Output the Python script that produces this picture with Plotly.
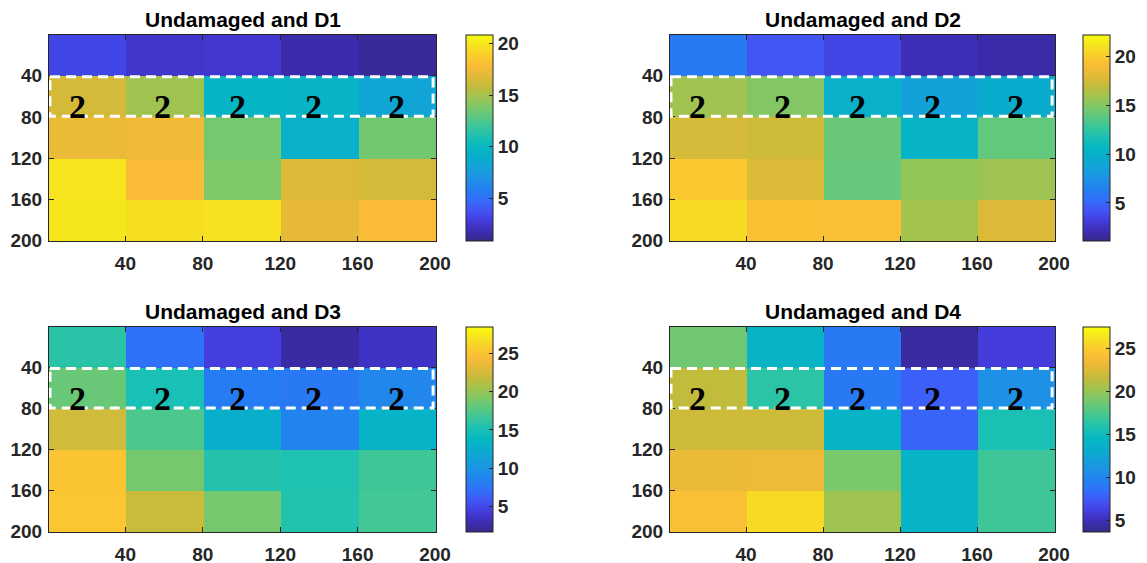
import plotly.graph_objects as go

# ---------------- data ----------------
titles = ["Undamaged and D1", "Undamaged and D2", "Undamaged and D3", "Undamaged and D4"]
block_centers = [20.5, 60.5, 100.5, 140.5, 180.5]   # 40x40 blocks on a 200x200 grid
axis_ticks = [40, 80, 120, 160, 200]

# block values (rows = y blocks from top, cols = x blocks from left)
d1 = [[3.3, 2.5, 2.6, 1.7, 1.3],
      [16.4, 14.8, 9.7, 9.5, 8.3],
      [17.2, 17.5, 13.6, 9.3, 13.5],
      [19.8, 17.8, 13.9, 16.6, 16.4],
      [19.9, 19.6, 19.7, 17.0, 17.8]]
d2 = [[6.0, 4.3, 3.6, 2.2, 1.9],
      [15.9, 15.0, 10.0, 8.7, 9.5],
      [17.6, 17.3, 14.2, 10.2, 14.0],
      [19.7, 17.8, 14.1, 15.5, 15.8],
      [20.7, 19.3, 19.2, 16.0, 17.8]]
d3 = [[15.8, 7.3, 4.5, 2.5, 3.6],
      [18.3, 15.0, 8.1, 7.8, 8.9],
      [22.3, 17.2, 12.6, 8.6, 13.2],
      [25.0, 18.8, 15.6, 15.3, 16.7],
      [25.2, 22.0, 18.8, 15.4, 16.8]]
d4 = [[18.7, 14.1, 9.1, 4.4, 6.0],
      [21.5, 16.3, 9.1, 7.7, 10.8],
      [22.0, 22.0, 14.1, 8.0, 15.6],
      [23.2, 23.4, 19.0, 14.1, 17.0],
      [24.2, 25.8, 20.3, 14.1, 17.0]]
panels = [d1, d2, d3, d4]
z_ranges = [(0.9, 20.8), (1.1, 22.2), (1.7, 28.4), (3.65, 27.5)]
cbar_ticks = [[5, 10, 15, 20], [5, 10, 15, 20], [5, 10, 15, 20, 25], [5, 10, 15, 20, 25]]

# labelled region and its labels
region_y = [41, 79.5]
region_x = [1, 199]
label_text = "2"
label_x = [15, 59, 98, 137, 180]
label_y = 70

# ---------------- style ----------------
parula = [
    [0.00, "rgb(53,42,135)"], [0.05, "rgb(60,45,180)"], [0.10, "rgb(68,60,220)"],
    [0.15, "rgb(66,85,245)"], [0.20, "rgb(50,110,250)"], [0.25, "rgb(35,128,240)"],
    [0.30, "rgb(30,145,230)"], [0.35, "rgb(20,160,218)"], [0.40, "rgb(10,172,205)"],
    [0.45, "rgb(5,183,195)"], [0.50, "rgb(25,192,180)"], [0.55, "rgb(55,198,158)"],
    [0.60, "rgb(90,200,130)"], [0.65, "rgb(125,200,105)"], [0.70, "rgb(160,195,80)"],
    [0.75, "rgb(195,188,60)"], [0.80, "rgb(225,185,55)"], [0.85, "rgb(250,188,55)"],
    [0.90, "rgb(250,205,45)"], [0.95, "rgb(245,228,30)"], [1.00, "rgb(249,251,14)"],
]
W, H = 1147, 563
ML, MR, MT, MB = 20, 10, 15, 10     # fixed margins; nothing may push the layout
OFF = 8                              # page body margin of the html page
IW, IH = W - ML - MR, H - MT - MB


def px(xp):
    return (xp - OFF - ML) / IW


def py(yp):
    return 1 - (yp - OFF - MT) / IH


# pixel boxes of the plot areas in the screenshot: (left, right, top, bottom)
boxes = [(49, 436, 35, 241), (670, 1055, 35, 241), (49, 436, 327, 532), (670, 1055, 327, 532)]
cbar_left = [466, 1083, 466, 1083]
axcol = "#262626"
tickfont = dict(family="Liberation Sans, Arial", size=19, color=axcol, weight="bold")

fig = go.Figure()
for i, (z, box) in enumerate(zip(panels, boxes)):
    l, r, t, b = box
    n = "" if i == 0 else str(i + 1)
    zmin, zmax = z_ranges[i]
    fig.add_trace(go.Heatmap(
        z=z, x=block_centers, y=block_centers, colorscale=parula,
        zmin=zmin, zmax=zmax, xaxis="x" + n, yaxis="y" + n,
        hoverinfo="skip",
        colorbar=dict(
            x=px(cbar_left[i]), xanchor="left", xpad=0,
            y=py(t), yanchor="top", ypad=0,
            len=(b - t) / IH, lenmode="fraction", thickness=27,
            outlinewidth=1, outlinecolor=axcol,
            ticks="inside", ticklen=4, tickcolor=axcol,
            tickvals=cbar_ticks[i], tickfont=tickfont,
        ),
    ))
    fig.layout["xaxis" + n] = dict(
        domain=[px(l), px(r)], anchor="y" + n, range=[0.5, 200.5],
        tickvals=axis_ticks, ticks="inside", ticklen=5, tickcolor=axcol,
        showline=True, linecolor=axcol, linewidth=1, mirror="ticks",
        showgrid=False, zeroline=False, tickfont=tickfont, automargin=False,
        ticklabelstandoff=5,
    )
    fig.layout["yaxis" + n] = dict(
        domain=[py(b), py(t)], anchor="x" + n, range=[200.5, 0.5],
        tickvals=axis_ticks, ticks="inside", ticklen=5, tickcolor=axcol,
        showline=True, linecolor=axcol, linewidth=1, mirror="ticks",
        showgrid=False, zeroline=False, tickfont=tickfont, automargin=False,
        ticklabelstandoff=2,
    )
    # title
    fig.add_annotation(
        text=titles[i], xref="paper", yref="paper",
        x=px((l + r) / 2), y=py(t - 2), xanchor="center", yanchor="bottom",
        showarrow=False,
        font=dict(family="Liberation Sans, Arial", size=21, color="#000000", weight="bold"),
    )
    # dashed region
    fig.add_shape(
        type="rect", xref="x" + n, yref="y" + n,
        x0=region_x[0], x1=region_x[1], y0=region_y[0], y1=region_y[1],
        line=dict(color="white", width=3, dash="10px,6px"),
    )
    for lx in label_x:
        fig.add_annotation(
            text=label_text, xref="x" + n, yref="y" + n, x=lx, y=label_y,
            showarrow=False,
            font=dict(family="Liberation Serif, Times New Roman", size=34,
                      color="black", weight="bold"),
        )

fig.update_layout(
    width=W, height=H, margin=dict(l=ML, r=MR, t=MT, b=MB, autoexpand=False),
    paper_bgcolor="white", plot_bgcolor="white", showlegend=False,
)
fig.write_html("out.html")
